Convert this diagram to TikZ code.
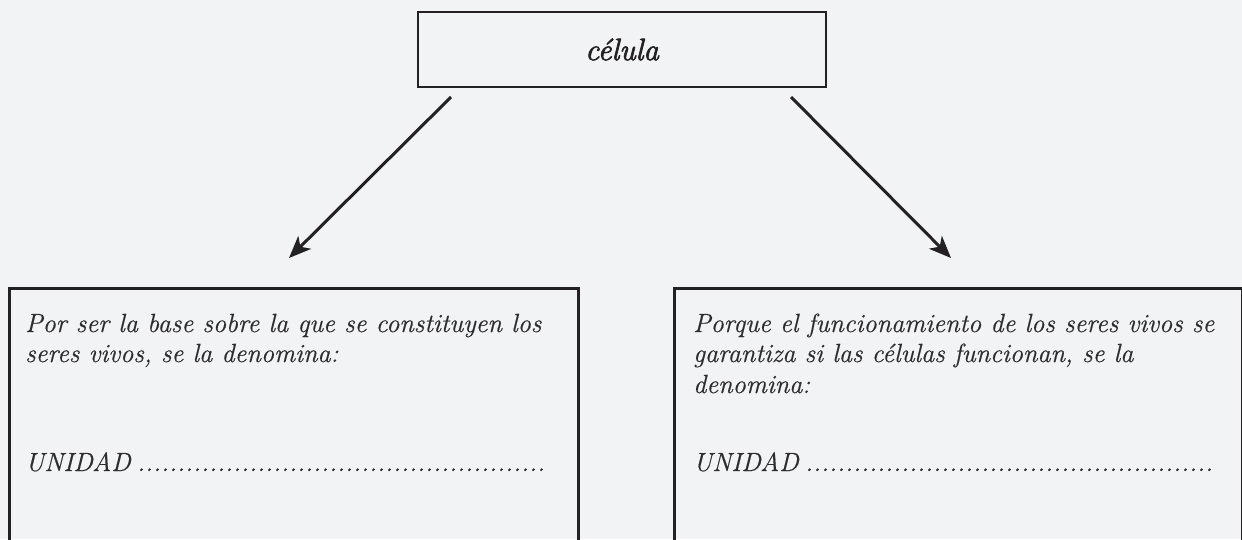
\documentclass[tikz,border=0pt]{standalone}
\usepackage{fontspec}
\setmainfont{Latin Modern Roman}
\newfontfamily\celfont[FakeBold=2.2]{Latin Modern Roman}
\newfontfamily\bodyfont[FakeBold=0.5]{Latin Modern Roman}
\usetikzlibrary{arrows.meta}
\definecolor{bgcol}{RGB}{242,243,245}
\definecolor{inkcol}{RGB}{35,33,35}
\definecolor{txtcol}{RGB}{45,45,48}
\newcommand{\mydots}{\leaders\hbox to 8pt{\hss.\hss}\hfill}
\tikzset{
  boxline/.style={draw=inkcol, line width=2.7pt},
  bodytext/.style={text=txtcol, inner sep=0pt, anchor=base west, font=\fontsize{26.3}{30}\bodyfont\itshape},
  arrowline/.style={draw=inkcol, line width=3pt, -{Stealth[length=22pt,width=18pt,inset=6pt]}},
}
\begin{document}
\begin{tikzpicture}[x=1pt,y=-1pt]
\useasboundingbox (0,0) rectangle (1242,539);
\fill[bgcol] (0,0) rectangle (1242,539);
\clip (0,0) rectangle (1242,539);
% top box
\node[boxline, rectangle, minimum width=408pt, minimum height=75pt, inner sep=0pt,
      text=inkcol, font=\fontsize{31}{36}\celfont\itshape] (cel) at (622,49.5) {célula};
% lower boxes
\node[boxline, rectangle, anchor=north west, minimum width=569pt, minimum height=300pt, inner sep=0pt] (lbox) at (8,287) {};
\node[boxline, rectangle, anchor=north west, minimum width=568pt, minimum height=300pt, inner sep=0pt] (rbox) at (673,287) {};
% arrows
\coordinate (la) at (451,97);
\coordinate (lb) at (289,258);
\coordinate (ra) at (791,97);
\coordinate (rb) at (951,258);
\draw[arrowline] (la) -- (lb);
\draw[arrowline] (ra) -- (rb);
% left text
\node[bodytext] (l1) at (25,332) {Por ser la base sobre la que se constituyen los};
\node[bodytext] (l2) at (25,362) {seres vivos, se la denomina:};
\node[bodytext] (lu) at (25,471) {\makebox[525pt][l]{UNIDAD\hspace{4pt}\mydots}};
% right text
\node[bodytext] (r1) at (693,332) {Porque el funcionamiento de los seres vivos se};
\node[bodytext] (r2) at (693,362) {garantiza si las células funcionan, se la};
\node[bodytext] (r3) at (693,393) {denomina:};
\node[bodytext] (ru) at (693,471) {\makebox[524pt][l]{UNIDAD\hspace{4pt}\mydots}};
\end{tikzpicture}
\end{document}
